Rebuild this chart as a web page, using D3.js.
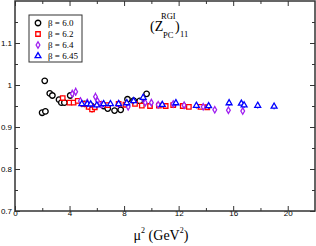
<!DOCTYPE html>
<html>
<head>
<meta charset="utf-8">
<script src="https://cdn.jsdelivr.net/npm/d3@7"></script>
<style>
  body { margin: 0; background: #fff; }
  svg { display: block; font-family: "Liberation Serif", "DejaVu Serif", serif; }
  .axis path, .axis line { stroke: #333; }
</style>
</head>
<body>
<svg id="chart" width="316" height="246"></svg>
<script>
"use strict";

// beta = 6.0
var b60X = [1.99, 2.23, 2.18, 2.55, 2.74, 3.23, 3.40, 3.62, 4.05, 5.1, 5.6, 6.5, 6.8, 7.3, 7.75, 8.25, 8.7, 9.15, 9.65];
var b60Y = [0.934, 0.937, 1.010, 0.980, 0.975, 0.965, 0.958, 0.958, 0.975, 0.955, 0.950, 0.950, 0.944, 0.939, 0.941, 0.966, 0.963, 0.962, 0.979];
var b60E = [0.004, 0.004, 0.002, 0.002, 0.002, 0.002, 0.002, 0.002, 0.002, 0.003, 0.003, 0.003, 0.003, 0.003, 0.003, 0.002, 0.002, 0.002, 0.002];

// beta = 6.2
var b62X = [3.5, 4.0, 4.3, 4.6, 5.0, 5.4, 5.65, 5.85, 6.2, 6.8, 7.6, 8.1, 8.8, 9.3, 9.9, 10.55, 11.05, 11.6, 12.3, 12.75, 13.6, 14.1];
var b62Y = [0.969, 0.958, 0.958, 0.962, 0.955, 0.948, 0.942, 0.947, 0.955, 0.952, 0.955, 0.953, 0.955, 0.951, 0.950, 0.951, 0.950, 0.952, 0.950, 0.948, 0.948, 0.947];
var b62E = [0.006, 0.006, 0.005, 0.006, 0.006, 0.007, 0.008, 0.007, 0.005, 0.004, 0.004, 0.004, 0.003, 0.003, 0.003, 0.003, 0.003, 0.003, 0.003, 0.003, 0.003, 0.003];

// beta = 6.4
var b64X = [4.2, 4.45, 4.8, 5.3, 5.9, 6.05, 6.35, 7.6, 8.3, 9.4, 9.55, 10.0, 10.5, 11.6, 12.4, 13.8, 14.65, 15.65, 16.7];
var b64Y = [0.979, 0.984, 0.962, 0.958, 0.972, 0.962, 0.953, 0.955, 0.948, 0.968, 0.958, 0.958, 0.953, 0.955, 0.952, 0.948, 0.941, 0.940, 0.938];
var b64E = [0.010, 0.010, 0.009, 0.009, 0.010, 0.009, 0.009, 0.008, 0.008, 0.008, 0.007, 0.007, 0.006, 0.006, 0.006, 0.006, 0.006, 0.006, 0.006];

// beta = 6.45
var b645X = [4.9, 5.3, 5.55, 6.0, 6.5, 7.0, 7.6, 8.2, 8.7, 9.4, 10.8, 11.8, 13.3, 14.2, 15.7, 16.6, 16.8, 17.8, 19.0];
var b645Y = [0.955, 0.955, 0.954, 0.952, 0.955, 0.955, 0.955, 0.957, 0.962, 0.970, 0.953, 0.957, 0.951, 0.950, 0.957, 0.956, 0.952, 0.951, 0.949];
var b645E = [0.008, 0.008, 0.008, 0.008, 0.008, 0.008, 0.008, 0.008, 0.008, 0.009, 0.007, 0.008, 0.007, 0.007, 0.007, 0.007, 0.007, 0.007, 0.007];

var xTicks = [0, 4, 8, 12, 16, 20];
var yTicks = [0.7, 0.8, 0.9, 1.0, 1.1];
var xMinor = [2, 6, 10, 14, 18];
var yMinor = [0.75, 0.85, 0.95, 1.05, 1.15];

var series = [
  { name: "\u03b2 = 6.0",  xs: b60X,  ys: b60Y,  es: b60E,  color: "#000000", shape: "circle" },
  { name: "\u03b2 = 6.2",  xs: b62X,  ys: b62Y,  es: b62E,  color: "#ff0000", shape: "square" },
  { name: "\u03b2 = 6.4",  xs: b64X,  ys: b64Y,  es: b64E,  color: "#a020f0", shape: "diamond" },
  { name: "\u03b2 = 6.45", xs: b645X, ys: b645Y, es: b645E, color: "#0000ff", shape: "triangle" }
];

var margin = { left: 15, right: 1, top: 1, bottom: 35 };
var width = 316 - margin.left - margin.right;
var height = 246 - margin.top - margin.bottom;

var svg = d3.select("#chart");
var graph = svg.append("g").attr("transform", "translate(" + margin.left + "," + margin.top + ")");

var x = d3.scaleLinear().domain([0, 22]).range([0, width]);
var y = d3.scaleLinear().domain([0.7, 1.2]).range([height, 0]);

function symbolFor(shape) {
  if (shape === "circle") return d3.symbol().type(d3.symbolCircle).size(24);
  if (shape === "square") return d3.symbol().type(d3.symbolSquare).size(20);
  if (shape === "diamond") return d3.symbol().type(d3.symbolDiamond).size(12);
  return d3.symbol().type(d3.symbolTriangle).size(15);
}

// axes, ticks inward
function addAxis(axisFn, scale, ticks, size, transform, showLabels) {
  var g = graph.append("g")
    .attr("class", "axis")
    .attr("transform", transform)
    .call(axisFn(scale).tickValues(ticks).tickSize(size).tickSizeOuter(0)
      .tickFormat(showLabels ? function(d) { return d; } : ""));
  g.select(".domain").remove();
  g.selectAll("line").attr("stroke-width", 1);
  return g;
}

var xb = addAxis(d3.axisBottom, x, xTicks, -5, "translate(0," + height + ")", true);
xb.selectAll("text").attr("font-size", 8).attr("dy", "0.3em").attr("fill", "#000");
addAxis(d3.axisBottom, x, xMinor, -3, "translate(0," + height + ")", false);
addAxis(d3.axisTop, x, xTicks, -5, "translate(0,0)", false);
addAxis(d3.axisTop, x, xMinor, -3, "translate(0,0)", false);

var yl = addAxis(d3.axisLeft, y, yTicks, -5, "translate(0,0)", true);
yl.selectAll("text").attr("font-size", 8).attr("x", -3).attr("fill", "#000")
  .text(function(d) { return d === 1 ? "1" : d3.format(".1f")(d); });
addAxis(d3.axisLeft, y, yMinor, -3, "translate(0,0)", false);
addAxis(d3.axisRight, y, yTicks, -5, "translate(" + width + ",0)", false);
addAxis(d3.axisRight, y, yMinor, -3, "translate(" + width + ",0)", false);

graph.append("rect")
  .attr("width", width).attr("height", height)
  .attr("fill", "none").attr("stroke", "#333").attr("stroke-width", 1.5);

// data
series.forEach(function(s) {
  var pts = s.xs.map(function(v, i) { return { x: v, y: s.ys[i], e: s.es[i] }; });
  var g = graph.append("g");
  g.selectAll("line.err").data(pts).enter().append("line")
    .attr("x1", function(d) { return x(d.x); })
    .attr("x2", function(d) { return x(d.x); })
    .attr("y1", function(d) { return y(d.y - d.e); })
    .attr("y2", function(d) { return y(d.y + d.e); })
    .attr("stroke", s.color).attr("stroke-width", 1);
  g.selectAll("path.pt").data(pts).enter().append("path")
    .attr("transform", function(d) { return "translate(" + x(d.x) + "," + y(d.y) + ")"; })
    .attr("d", symbolFor(s.shape)())
    .attr("fill", "#fff").attr("stroke", s.color).attr("stroke-width", 1.3);
});

// legend
var legend = graph.append("g").attr("transform", "translate(14,14)");
legend.append("rect").attr("width", 53).attr("height", 47)
  .attr("fill", "#fff").attr("stroke", "#333").attr("stroke-width", 1);
series.forEach(function(s, i) {
  var row = legend.append("g").attr("transform", "translate(9," + (8 + i * 11) + ")");
  row.append("path").attr("d", symbolFor(s.shape)())
    .attr("fill", "#fff").attr("stroke", s.color).attr("stroke-width", 1.3);
  row.append("text").attr("x", 10).attr("dy", "0.35em")
    .attr("font-size", 9).text(s.name);
});

// title: (Z^RGI_PC)_11
var title = svg.append("g");
title.append("text").attr("x", 150).attr("y", 31).attr("font-size", 14).text("(Z");
title.append("text").attr("x", 161).attr("y", 19).attr("font-size", 8.5).text("RGI");
title.append("text").attr("x", 163).attr("y", 38).attr("font-size", 8.5).text("PC");
title.append("text").attr("x", 175).attr("y", 31).attr("font-size", 14).text(")");
title.append("text").attr("x", 180).attr("y", 37).attr("font-size", 8.5).text("11");

// x label
var xl = svg.append("text").attr("x", 161).attr("y", 240)
  .attr("text-anchor", "middle").attr("font-size", 14);
xl.append("tspan").text("\u03bc");
xl.append("tspan").attr("font-size", 8).attr("dy", -7).text("2");
xl.append("tspan").attr("dy", 7).text(" (GeV");
xl.append("tspan").attr("font-size", 8).attr("dy", -7).text("2");
xl.append("tspan").attr("dy", 7).text(")");
</script>
</body>
</html>
